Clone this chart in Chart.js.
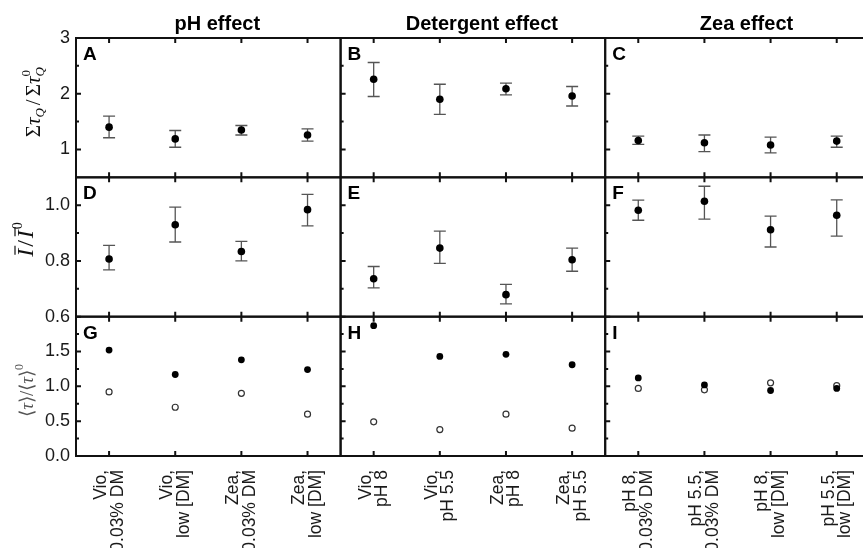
<!DOCTYPE html>
<html lang="en">
<head>
<meta charset="UTF-8">
<title>Quenching: pH, detergent and Zea effects</title>
<script src="https://cdn.jsdelivr.net/npm/chart.js"></script>
<style>
  html, body { margin: 0; padding: 0; overflow: hidden; background: #fff; }
  #wrap { position: relative; width: 863px; height: 548px; overflow: hidden; }
  canvas { display: block; }
</style>
</head>
<body>
<div id="wrap"><canvas id="chart" width="875" height="548"></canvas></div>
<script>
// categories of each column (two-line tick labels)
const phLabels = [['Vio,', '0.03% DM'], ['Vio,', 'low [DM]'], ['Zea,', '0.03% DM'], ['Zea,', 'low [DM]']];
const detLabels = [['Vio,', 'pH 8'], ['Vio,', 'pH 5.5'], ['Zea,', 'pH 8'], ['Zea,', 'pH 5.5']];
const zeaLabels = [['pH 8,', '0.03% DM'], ['pH 5.5,', '0.03% DM'], ['pH 8,', 'low [DM]'], ['pH 5.5,', 'low [DM]']];
const columnTitles = ['pH effect', 'Detergent effect', 'Zea effect'];
const panelLetters = ['A', 'B', 'C', 'D', 'E', 'F', 'G', 'H', 'I'];

// y axis ticks of each row
const tauTicks = [1, 2, 3];
const tauMinor = [1.5, 2.5];
const intTicks = [0.6, 0.8, 1.0];
const intMinor = [0.7, 0.9];
const lifeTicks = [0, 0.5, 1.0, 1.5];
const lifeMinor = [0.25, 0.75, 1.25, 1.75];

// row 1: sum tau_Q / sum tau_Q^0 (value, error bar low, error bar high)
const sumTauPH = [1.40, 1.19, 1.35, 1.26];
const sumTauPHLo = [1.21, 1.04, 1.26, 1.15];
const sumTauPHHi = [1.60, 1.34, 1.43, 1.37];
const sumTauDet = [2.26, 1.90, 2.09, 1.96];
const sumTauDetLo = [1.95, 1.63, 1.98, 1.78];
const sumTauDetHi = [2.56, 2.17, 2.19, 2.13];
const sumTauZea = [1.16, 1.12, 1.08, 1.15];
const sumTauZeaLo = [1.09, 0.96, 0.94, 1.04];
const sumTauZeaHi = [1.24, 1.26, 1.22, 1.24];

// row 2: mean intensity ratio
const intPH = [0.807, 0.930, 0.834, 0.984];
const intPHLo = [0.768, 0.868, 0.800, 0.926];
const intPHHi = [0.856, 0.993, 0.870, 1.039];
const intDet = [0.736, 0.846, 0.679, 0.804];
const intDetLo = [0.703, 0.791, 0.646, 0.763];
const intDetHi = [0.780, 0.907, 0.716, 0.846];
const intZea = [0.982, 1.014, 0.912, 0.964];
const intZeaLo = [0.946, 0.950, 0.850, 0.889];
const intZeaHi = [1.018, 1.068, 0.961, 1.019];

// row 3: mean lifetime ratio, filled and open symbols
const lifeFilledPH = [1.52, 1.17, 1.38, 1.24];
const lifeOpenPH = [0.92, 0.70, 0.90, 0.60];
const lifeFilledDet = [1.87, 1.43, 1.46, 1.31];
const lifeOpenDet = [0.49, 0.38, 0.60, 0.40];
const lifeFilledZea = [1.12, 1.02, 0.94, 0.97];
const lifeOpenZea = [0.97, 0.95, 1.05, 1.01];

const xIds = ['xPH', 'xDet', 'xZea'];
const yIds = ['yTau', 'yInt', 'yLife'];

function filledSet(data, x, y, r) {
  return { data, xAxisID: x, yAxisID: y, showLine: false, pointStyle: 'circle',
    pointRadius: r, pointBackgroundColor: '#000', pointBorderColor: '#000', pointBorderWidth: 0 };
}
function openSet(data, x, y) {
  return { data, xAxisID: x, yAxisID: y, showLine: false, pointStyle: 'circle',
    pointRadius: 3, pointBackgroundColor: '#fff', pointBorderColor: '#333', pointBorderWidth: 1.2 };
}

const datasets = [
  filledSet(sumTauPH, 'xPH', 'yTau', 3.8),
  filledSet(sumTauDet, 'xDet', 'yTau', 3.8),
  filledSet(sumTauZea, 'xZea', 'yTau', 3.8),
  filledSet(intPH, 'xPH', 'yInt', 3.8),
  filledSet(intDet, 'xDet', 'yInt', 3.8),
  filledSet(intZea, 'xZea', 'yInt', 3.8),
  filledSet(lifeFilledPH, 'xPH', 'yLife', 3.4),
  filledSet(lifeFilledDet, 'xDet', 'yLife', 3.4),
  filledSet(lifeFilledZea, 'xZea', 'yLife', 3.4),
  openSet(lifeOpenPH, 'xPH', 'yLife'),
  openSet(lifeOpenDet, 'xDet', 'yLife'),
  openSet(lifeOpenZea, 'xZea', 'yLife')
];

const errorBars = [
  { x: 'xPH', y: 'yTau', lo: sumTauPHLo, hi: sumTauPHHi },
  { x: 'xDet', y: 'yTau', lo: sumTauDetLo, hi: sumTauDetHi },
  { x: 'xZea', y: 'yTau', lo: sumTauZeaLo, hi: sumTauZeaHi },
  { x: 'xPH', y: 'yInt', lo: intPHLo, hi: intPHHi },
  { x: 'xDet', y: 'yInt', lo: intDetLo, hi: intDetHi },
  { x: 'xZea', y: 'yInt', lo: intZeaLo, hi: intZeaHi }
];

const minorTicks = { yTau: tauMinor, yInt: intMinor, yLife: lifeMinor };
const majorTicks = { yTau: tauTicks, yInt: intTicks, yLife: lifeTicks };

function xScale(labels, weight) {
  return {
    type: 'category', labels, position: 'bottom', stack: 'cols', weight, offset: true,
    grid: { display: false, drawTicks: false }, border: { display: false },
    ticks: { autoSkip: false, minRotation: 90, maxRotation: 90, padding: 14, labelOffset: -8,
      color: '#1a1a1a', font: { family: 'Liberation Sans', size: 17.5, lineHeight: 0.95 } },
    afterFit: s => { s.height = 92; s.paddingLeft = 0; s.paddingRight = 0; }
  };
}
function yScale(min, max, ticks, decimals, weight) {
  return {
    type: 'linear', position: 'left', stack: 'rows', weight, min, max,
    grid: { display: false, drawTicks: false }, border: { display: false },
    afterBuildTicks: s => { s.ticks = ticks.map(v => ({ value: v })); },
    ticks: { padding: 6, color: '#1a1a1a', font: { family: 'Liberation Sans', size: 18 },
      callback: v => Number(v).toFixed(decimals) },
    afterFit: s => { s.width = 76; s.paddingTop = 0; s.paddingBottom = 0; }
  };
}

// rich text for the rotated y titles
const serif = 'Liberation Serif';
const yTitles = {
  yTau: { color: '#111', x: 40, shift: -4, parts: [
    { t: 'Σ', f: `21px ${serif}` }, { t: 'τ', f: `italic 21px ${serif}` },
    { t: 'Q', f: `italic 13px ${serif}`, dy: 4 }, { t: '/', f: `21px ${serif}`, gap: 3 },
    { t: 'Σ', f: `21px ${serif}` }, { t: 'τ', f: `italic 21px ${serif}` },
    { t: 'Q', f: `italic 13px ${serif}`, dy: 4, adv: false }, { t: '0', f: `13px ${serif}`, dy: -10 }
  ] },
  yInt: { color: '#111', x: 33, shift: -7, parts: [
    { t: 'I', f: `italic 24px ${serif}`, over: true, gap: 1 }, { t: '/', f: `24px ${serif}`, gap: 1 },
    { t: 'I', f: `italic 24px ${serif}`, over: true, gap: 1 }, { t: '0', f: `14px ${serif}`, dy: -11 }
  ] },
  yLife: { color: '#555', x: 33, shift: 4, parts: [
    { t: '⟨', f: `19px ${serif}` }, { t: 'τ', f: `italic 19px ${serif}` }, { t: '⟩', f: `19px ${serif}` },
    { t: '/', f: `19px ${serif}` },
    { t: '⟨', f: `19px ${serif}` }, { t: 'τ', f: `italic 19px ${serif}` }, { t: '⟩', f: `19px ${serif}` },
    { t: '0', f: `12px ${serif}`, dy: -10 }
  ] }
};

function drawRich(ctx, spec, cy) {
  ctx.save();
  ctx.translate(spec.x, cy);
  ctx.rotate(-Math.PI / 2);
  ctx.fillStyle = spec.color;
  ctx.strokeStyle = spec.color;
  ctx.textAlign = 'left';
  ctx.textBaseline = 'alphabetic';
  let total = 0;
  spec.parts.forEach(p => {
    ctx.font = p.f;
    p.w = ctx.measureText(p.t).width;
    if (p.adv !== false) total += p.w + (p.gap || 0) * 2;
  });
  let cx = -total / 2;
  spec.parts.forEach(p => {
    ctx.font = p.f;
    const g = p.gap || 0;
    ctx.fillText(p.t, cx + g, p.dy || 0);
    if (p.over) {
      ctx.lineWidth = 1.2;
      ctx.beginPath();
      ctx.moveTo(cx + g + 2, -18);
      ctx.lineTo(cx + g + p.w + 3, -18);
      ctx.stroke();
    }
    if (p.adv !== false) cx += p.w + g * 2;
  });
  ctx.restore();
}

const panelPlugin = {
  id: 'panels',
  beforeDatasetsDraw(chart) {
    const ctx = chart.ctx;
    ctx.save();
    ctx.strokeStyle = '#555';
    ctx.lineWidth = 1.3;
    errorBars.forEach(eb => {
      const xs = chart.scales[eb.x], ys = chart.scales[eb.y];
      eb.lo.forEach((lo, i) => {
        const px = xs.getPixelForValue(i);
        const p1 = ys.getPixelForValue(lo), p2 = ys.getPixelForValue(eb.hi[i]);
        ctx.beginPath();
        ctx.moveTo(px, p1); ctx.lineTo(px, p2);
        ctx.moveTo(px - 6, p1); ctx.lineTo(px + 6, p1);
        ctx.moveTo(px - 6, p2); ctx.lineTo(px + 6, p2);
        ctx.stroke();
      });
    });
    ctx.restore();
  },
  afterDatasetsDraw(chart) {
    const ctx = chart.ctx;
    ctx.save();
    ctx.strokeStyle = '#111';
    ctx.lineWidth = 2;
    yIds.forEach((yId, r) => {
      const ys = chart.scales[yId];
      xIds.forEach((xId, c) => {
        const xs = chart.scales[xId];
        const l = xs.left, rt = xs.right, t = ys.top, b = ys.bottom;
        ctx.strokeRect(l, t, rt - l, b - t);
        ctx.beginPath();
        for (let i = 0; i < 4; i++) {
          const px = xs.getPixelForValue(i);
          ctx.moveTo(px, t); ctx.lineTo(px, t + 5);
          ctx.moveTo(px, b); ctx.lineTo(px, b - 5);
        }
        majorTicks[yId].forEach(v => {
          const py = ys.getPixelForValue(v);
          ctx.moveTo(l, py); ctx.lineTo(l + 5, py);
        });
        minorTicks[yId].forEach(v => {
          const py = ys.getPixelForValue(v);
          ctx.moveTo(l, py); ctx.lineTo(l + 3, py);
        });
        ctx.stroke();
        // panel letter
        ctx.fillStyle = '#000';
        ctx.font = 'bold 19px Liberation Sans';
        ctx.textAlign = 'left';
        ctx.textBaseline = 'alphabetic';
        ctx.fillText(panelLetters[r * 3 + c], l + 7, t + 22);
      });
      const spec = yTitles[yId];
      drawRich(ctx, spec, (ys.top + ys.bottom) / 2 + spec.shift);
    });
    // column headers
    ctx.fillStyle = '#000';
    ctx.font = 'bold 20px Liberation Sans';
    ctx.textAlign = 'center';
    ctx.textBaseline = 'alphabetic';
    xIds.forEach((xId, c) => {
      const xs = chart.scales[xId];
      ctx.fillText(columnTitles[c], (xs.left + xs.right) / 2 + 9, 30);
    });
    ctx.restore();
  }
};

new Chart(document.getElementById('chart'), {
  type: 'line',
  data: { datasets },
  options: {
    responsive: false,
    animation: false,
    layout: { padding: { top: 38, left: 0, right: 0, bottom: 0 } },
    plugins: { legend: { display: false }, tooltip: { enabled: false } },
    scales: {
      xPH: xScale(phLabels, 1),
      xDet: xScale(detLabels, 2),
      xZea: xScale(zeaLabels, 3),
      yTau: yScale(0.5, 3, tauTicks, 0, 3),
      yInt: yScale(0.6, 1.1, intTicks, 1, 2),
      yLife: yScale(0, 2, lifeTicks, 1, 1)
    }
  },
  plugins: [panelPlugin]
});
</script>
</body>
</html>
